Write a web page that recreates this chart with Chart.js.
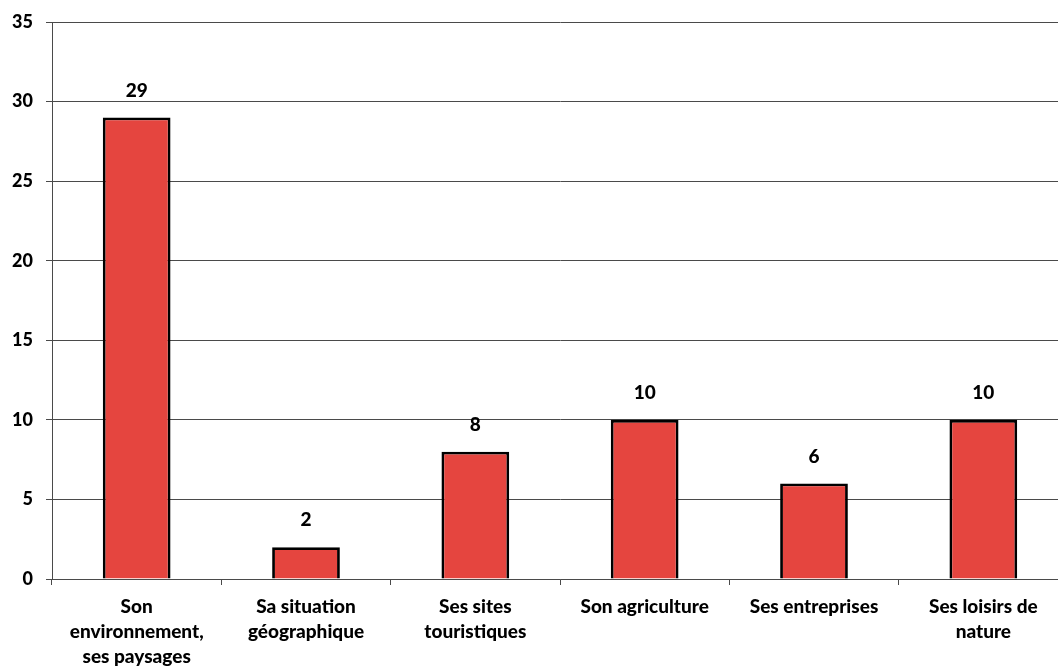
<!DOCTYPE html>
<html>
<head>
<meta charset="utf-8">
<script src="https://cdn.jsdelivr.net/npm/chart.js@4.4.1/dist/chart.umd.min.js"></script>
<style>
html,body{margin:0;padding:0;background:#fff;overflow:hidden;}
#wrap{position:relative;width:1068px;height:666px;}
</style>
</head>
<body>
<div id="wrap"><canvas id="c" width="1068" height="666"></canvas></div>
<script>
const categories = [
  ["Son","environnement,","ses paysages"],
  ["Sa situation","géographique"],
  ["Ses sites","touristiques"],
  ["Son agriculture"],
  ["Ses entreprises"],
  ["Ses loisirs de","nature"]
];
const values = [29, 2, 8, 10, 6, 10];
const yTicks = [0, 5, 10, 15, 20, 25, 30, 35];

const FONT = "Lato, 'Open Sans', sans-serif";

const valueLabels = {
  id: 'valueLabels',
  afterDatasetsDraw(chart) {
    const ctx = chart.ctx;
    const meta = chart.getDatasetMeta(0);
    ctx.save();
    ctx.font = "900 19px " + FONT;
    ctx.fillStyle = "#000";
    ctx.textAlign = "center";
    ctx.textBaseline = "middle";
    meta.data.forEach((bar, i) => {
      ctx.fillText(String(values[i]), bar.x, bar.y - 27);
    });
    ctx.restore();
  }
};

new Chart(document.getElementById('c'), {
  type: 'bar',
  data: {
    labels: categories,
    datasets: [{
      data: values,
      backgroundColor: '#E5453F',
      borderColor: '#000',
      borderWidth: 2.8,
      barPercentage: 0.4,
      categoryPercentage: 1.0
    }]
  },
  options: {
    responsive: false,
    animation: false,
    layout: { padding: { top: 16, right: 0, left: 0, bottom: 0 } },
    plugins: { legend: { display: false }, tooltip: { enabled: false } },
    scales: {
      y: {
        min: 0, max: 35,
        afterBuildTicks(axis) { axis.ticks = yTicks.map(v => ({ value: v })); },
        afterFit(axis) { axis.width = 52; },
        ticks: {
          color: '#000',
          font: { family: FONT, size: 18, weight: '900', lineHeight: 1 },
          padding: 13
        },
        grid: { color: '#4a4a4a', lineWidth: 1, tickLength: 6, drawTicks: true },
        border: { color: '#4a4a4a', width: 1 }
      },
      x: {
        afterFit(axis) { axis.height = 87; },
        ticks: {
          color: '#000',
          font: { family: FONT, size: 19, weight: '900', lineHeight: 1.3 },
          padding: 10,
          maxRotation: 0,
          autoSkip: false
        },
        grid: { drawOnChartArea: false, drawTicks: true, tickLength: 6, color: '#4a4a4a', offset: true },
        border: { color: '#4a4a4a', width: 1 }
      }
    }
  },
  plugins: [valueLabels]
});
</script>
</body>
</html>
